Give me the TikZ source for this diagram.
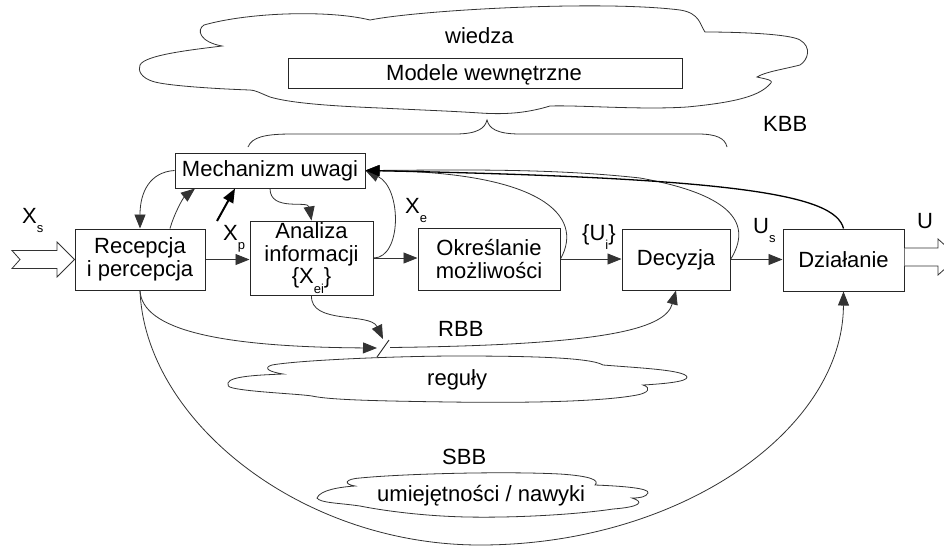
\documentclass[tikz,border=0pt]{standalone}
\usepackage{fontspec}
\setmainfont{Liberation Sans}
\usetikzlibrary{arrows.meta}
\newcommand{\lowsub}[1]{\raisebox{-0.42em}{\fontsize{13}{13}\selectfont #1}}
\begin{document}
\begin{tikzpicture}[x=1pt,y=-1pt,
  box/.style={draw=black!85, line width=1pt, inner sep=0pt, align=center, fill=white,
              font=\fontsize{22}{22.5}\selectfont},
  lbl/.style={inner sep=0pt, font=\fontsize{22}{22}\selectfont},
  conn/.style={draw=black!80, line width=0.8pt, -{Triangle[length=14pt,width=11pt]}},
  thickconn/.style={draw=black, line width=2pt, -{Triangle[length=14pt,width=11pt]}},
  cloudline/.style={draw=black!80, line width=0.8pt},
  hollow/.style={draw=black!80, line width=0.8pt, fill=white}]
\useasboundingbox (0,0) rectangle (944,547);
\fill[white] (0,0) rectangle (944,547);

% top cloud (wiedza)
\draw[cloudline] (140,65) .. controls (145,55) and (190,50) .. (222,46)
  .. controls (200,42) and (196,30) .. (204,25)
  .. controls (250,12) and (330,10) .. (370,20)
  .. controls (420,10) and (600,0) .. (680,10)
  .. controls (700,13) and (700,25) .. (705,32)
  .. controls (740,32) and (790,34) .. (800,40)
  .. controls (812,47) and (808,60) .. (800,65)
  .. controls (780,70) and (765,72) .. (757,77)
  .. controls (765,79) and (775,80) .. (770,84)
  .. controls (760,95) and (740,102) .. (687,107)
  .. controls (640,110) and (580,105) .. (550,106)
  .. controls (530,112) and (510,115) .. (480,113)
  .. controls (450,111) and (420,110) .. (380,108)
  .. controls (330,106) and (290,103) .. (270,97)
  .. controls (260,93) and (255,90) .. (250,90)
  .. controls (220,89) and (170,86) .. (155,82)
  .. controls (140,78) and (138,70) .. (140,65) -- cycle;

% reguly cloud
\draw[cloudline] (228,383) .. controls (230,376) and (260,375) .. (283,374)
  .. controls (270,372) and (262,368) .. (272,365)
  .. controls (300,360) and (400,356) .. (457,356)
  .. controls (520,356) and (590,357) .. (603,365)
  .. controls (640,368) and (685,370) .. (687,377)
  .. controls (688,382) and (660,384) .. (643,385)
  .. controls (652,388) and (648,393) .. (637,395)
  .. controls (600,402) and (520,403) .. (450,402)
  .. controls (380,401) and (330,400) .. (312,396)
  .. controls (300,394) and (250,392) .. (233,388)
  .. controls (228,387) and (227,385) .. (228,383) -- cycle;

% umiejetnosci cloud
\draw[cloudline] (317,498) .. controls (320,490) and (340,487) .. (355,486)
  .. controls (343,484) and (345,479) .. (360,478)
  .. controls (400,474) and (500,471) .. (560,474)
  .. controls (590,476) and (600,480) .. (595,485)
  .. controls (620,486) and (650,488) .. (648,493)
  .. controls (646,497) and (640,498) .. (632,498)
  .. controls (645,502) and (640,507) .. (613,509)
  .. controls (580,514) and (520,518) .. (467,517)
  .. controls (420,516) and (380,510) .. (360,506)
  .. controls (340,503) and (320,503) .. (317,498) -- cycle;

% brace
\draw[cloudline] (248,147) .. controls (252,137) and (265,134) .. (292,134) -- (455,134)
  .. controls (478,134) and (485,128) .. (487,120)
  .. controls (489,128) and (496,134) .. (520,134) -- (698,134)
  .. controls (716,134) and (725,138) .. (727,147);

% boxes
\node[box, minimum width=394pt, minimum height=30pt] (modele) at (485,73) {};
\node[lbl, anchor=base] (tmodele) at (484,80) {Modele wewnętrzne};
\node[box, minimum width=190pt, minimum height=35pt] (mech) at (270,170.5) {Mechanizm uwagi};
\node[box, minimum width=130pt, minimum height=61pt] (rec) at (140,259.5) {Recepcja\\i percepcja};
\node[box, minimum width=123pt, minimum height=74pt] (ana) at (311.5,258) {Analiza\\informacji\\\{X\lowsub{ei}\}};
\node[box, minimum width=142pt, minimum height=62pt] (okr) at (489,259) {Określanie\\możliwości};
\node[box, minimum width=108pt, minimum height=61pt] (dec) at (676,259.5) {Decyzja};
\node[box, minimum width=121pt, minimum height=62pt] (dzi) at (843.5,260) {Działanie};

% labels
\node[lbl, anchor=base west] (lwiedza) at (445,43) {wiedza};
\node[lbl, anchor=base west] (lkbb) at (763,131) {KBB};
\node[lbl, anchor=base west] (lxs) at (22,223) {X\lowsub{s}};
\node[lbl, anchor=base west] (lxp) at (223,240) {X\lowsub{p}};
\node[lbl, anchor=base west] (lxe) at (405,213) {X\lowsub{e}};
\node[lbl, anchor=base west] (lui) at (582,240) {\{U\lowsub{i}\}};
\node[lbl, anchor=base west] (lus) at (753,233) {U\lowsub{s}};
\node[lbl, anchor=base west] (lu) at (917,228) {U};
\node[lbl, anchor=base west] (lrbb) at (438,336) {RBB};
\node[lbl, anchor=base west] (lreg) at (427,385) {reguły};
\node[lbl, anchor=base west] (lsbb) at (442,464) {SBB};
\node[lbl, anchor=base west] (lumi) at (377,501) {umiejętności / nawyki};

% input hollow arrow
\draw[hollow] (12,250.5) -- (57,250.5) -- (57,242) -- (rec.west) -- (57,277) -- (57,268.5)
  -- (12,268.5) -- (20,259.5) -- cycle;

% output hollow arrow
\begin{scope}
\clip (0,0) rectangle (944,547);
\draw[hollow] (dzi.east |- 0,248) -- (938,248) -- (938,239) -- (958,257) -- (938,275)
  -- (938,266) -- (dzi.east |- 0,266);
\end{scope}

% main flow
\draw[conn] (rec.east) -- (rec.east -| ana.west);
\draw[conn] (ana.east) -- (ana.east -| okr.west);
\draw[conn] (okr.east) -- (okr.east -| dec.west);
\draw[conn] (dec.east) -- (dec.east -| dzi.west);

% attention loops
\draw[conn] (mech.west) .. controls (150,172) and (140,192) .. (rec.north);
\draw[conn] ([xshift=30pt]rec.north) .. controls (174,214) and (183,198) .. ([xshift=-75pt]mech.south);
\coordinate (xpst) at (217,221);
\draw[thickconn] (xpst) -- ([xshift=-35pt]mech.south);
\draw[conn] (mech.south) .. controls (270,212) and (308,200) .. (ana.north);

% feedback to attention
\draw[conn] (ana.east) .. controls (402,258) and (402,188) .. (mech.east);
\draw[conn] (okr.east) .. controls (585,215) and (540,172) .. (mech.east);
\draw[conn] (dec.east) .. controls (752,225) and (735,195) .. (640,178)
  .. controls (550,168) and (450,170) .. (mech.east);
\draw[conn, line width=1.3pt, draw=black] (dzi.north) .. controls (835,195) and (740,178) .. (mech.east);

% RBB path
\coordinate (slin) at (377,348);
\coordinate (slout) at (390,347.5);
\coordinate (sltop) at (383,339);
\draw[conn] (rec.south) .. controls (142,330) and (220,347) .. (slin);
\draw[conn] (slout) .. controls (600,345) and (665,330) .. (dec.south);
\draw[conn] (ana.south) .. controls (310,325) and (370,312) .. (sltop);
\draw[line width=0.9pt, black!85] (377,357) -- (389,340);

% SBB path
\draw[conn] (rec.south) .. controls (145,420) and (300,545) .. (480,545)
  .. controls (680,545) and (843,430) .. (dzi.south);
\end{tikzpicture}
\end{document}
